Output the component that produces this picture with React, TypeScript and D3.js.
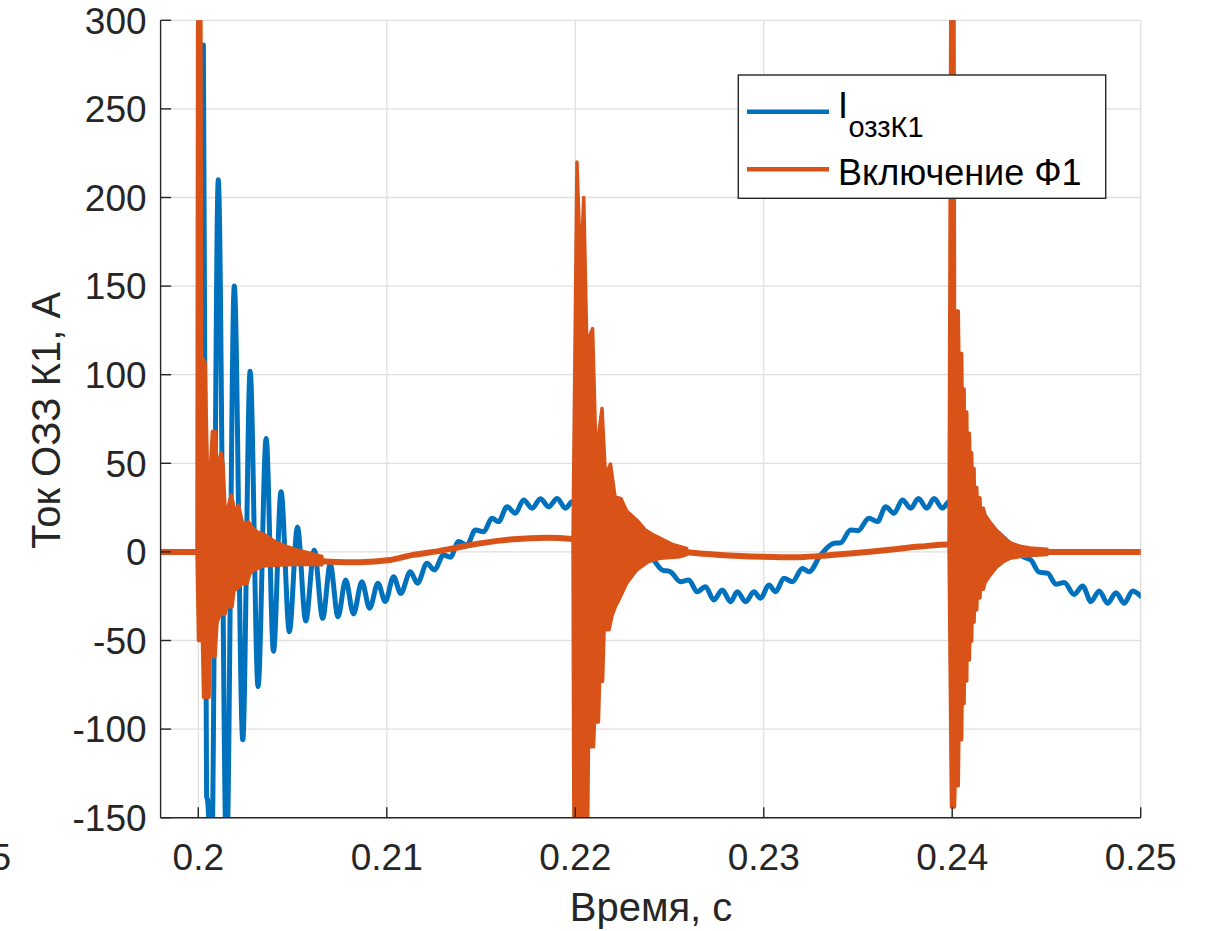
import React from 'react';
import * as d3 from 'd3';

const W = 1207;
const H = 931;
const PLOT = { left: 160.6, right: 1140.7, top: 20.3, bottom: 817.7 };

const xDomain: [number, number] = [0.198, 0.25];
const yDomain: [number, number] = [-150, 300];
const xTicks = [0.2, 0.21, 0.22, 0.23, 0.24, 0.25];
const xTickLabels = ['0.2', '0.21', '0.22', '0.23', '0.24', '0.25'];
const yTicks = [-150, -100, -50, 0, 50, 100, 150, 200, 250, 300];
const yTickLabels = ['-150', '-100', '-50', '0', '50', '100', '150', '200', '250', '300'];
const clippedLeftLabel = '0.195';
const xLabel = 'Время, с';
const yLabel = 'Ток ОЗЗ К1, А';
const legendMain = 'I';
const legendSub = 'оззК1';
const legendSecond = 'Включение Ф1';

const BLUE = '#0072BD';
const ORANGE = '#D95319';

// I озз K1 : [time s, current A]
const blueSeries: [number, number][] = [
  [0.198, 0], [0.2, 0], [0.20027, 286], [0.20044, -138], [0.20049, -140], [0.2007, -180],
  [0.20106, 210], [0.2015, -175], [0.20191, 150], [0.20236, -106], [0.20275, 102], [0.20317, -76],
  [0.2036, 64], [0.20399, -56], [0.20439, 34], [0.20483, -45], [0.20526, 14], [0.2057, -39],
  [0.20615, 1], [0.2066, -37.5], [0.207, -7], [0.20741, -36.6], [0.20782, -15.8], [0.20823, -35],
  [0.20868, -16.8], [0.20909, -31.8], [0.20953, -17.7], [0.20992, -28], [0.21036, -14], [0.21074, -23.4],
  [0.21125, -11.2], [0.21163, -17.7], [0.21213, -6.4], [0.21252, -10.2], [0.21301, -1.7], [0.21337, -3],
  [0.21381, 5.8], [0.21426, 3.9], [0.2147, 12.4], [0.21514, 11.4], [0.21558, 19], [0.21593, 17.1],
  [0.21638, 25.5], [0.21682, 21.8], [0.21726, 29.3], [0.21771, 24.6], [0.21815, 30], [0.21859, 25.5],
  [0.21904, 30.2], [0.21948, 24.6], [0.21983, 28.3], [0.22027, 26], [0.22107, 22], [0.22187, 16],
  [0.22266, 8], [0.22346, 0], [0.22408, -3.6], [0.22461, -10.2], [0.22505, -11.2], [0.22558, -16.8],
  [0.22602, -15.8], [0.22647, -22.5], [0.22691, -19.6], [0.22735, -27.1], [0.2278, -21.5], [0.22824, -28.1],
  [0.2286, -22.5], [0.22904, -28.1], [0.22948, -22.5], [0.22983, -26.2], [0.23027, -18.7], [0.23063, -22.5],
  [0.23107, -14.9], [0.23152, -16.8], [0.23205, -9.3], [0.2324, -11.2], [0.23302, -1.7], [0.23373, 4.9],
  [0.23408, 5.2], [0.23461, 12.4], [0.235, 12], [0.23558, 19], [0.23603, 17.1], [0.23647, 25.5],
  [0.23691, 21.8], [0.23736, 29.3], [0.2378, 24.6], [0.23821, 30.2], [0.23865, 24.6], [0.23904, 30.2],
  [0.23948, 24.6], [0.23983, 28.3], [0.24045, 26], [0.24125, 21], [0.24189, 16], [0.2424, 11],
  [0.24311, 4], [0.24373, -2.6], [0.24417, -4.5], [0.24461, -11.4], [0.24506, -12], [0.2455, -18.2],
  [0.24594, -17.3], [0.24647, -24], [0.24692, -19.2], [0.24736, -28], [0.2478, -22], [0.24824, -29],
  [0.24869, -23], [0.24913, -29], [0.24957, -22], [0.25, -25],
];

// Включение Ф1 : slow component between bursts
const orangeBase: [number, number][] = [
  [0.198, 0], [0.19998, 0], [0.20274, -1], [0.2054, -3.6], [0.20699, -5.5], [0.20858, -5.8],
  [0.21017, -4.6], [0.21139, -1.7], [0.21282, 0.6], [0.21389, 2.8], [0.21495, 4.8], [0.2167, 7.1],
  [0.2185, 8], [0.21988, 7.3], [0.22131, 5.5], [0.2229, 4], [0.22412, 2.9], [0.22593, -0.2],
  [0.22768, -1.7], [0.22996, -2.7], [0.23177, -3], [0.23299, -2.3], [0.23474, -0.8], [0.23654, 1.1],
  [0.23829, 3], [0.23983, 4.2], [0.24041, 3], [0.242, 1], [0.2436, 0.3], [0.24503, 0], [0.25, 0],
];

// Включение Ф1 : oscillation bursts, upper and lower extremes
const burst1Upper: [number, number][] = [
  [0.19993, 0], [0.19998, 420], [0.20012, 420], [0.20017, 110], [0.20036, 107], [0.20049, 43],
  [0.20062, 43], [0.20075, 68], [0.20091, 68], [0.20099, 45], [0.2012, 56], [0.20131, 50],
  [0.20142, 25], [0.20158, 25], [0.20174, 32], [0.20184, 28], [0.20195, 22], [0.20213, 26.5],
  [0.20227, 20], [0.20237, 15], [0.20266, 17], [0.20285, 14], [0.20311, 11.4], [0.20354, 9.6],
  [0.20407, 5.8], [0.20471, 3], [0.20524, 1.1], [0.20593, -0.8], [0.20656, -2.5],
];
const burst1Lower: [number, number][] = [
  [0.19993, 0], [0.20001, -50], [0.20022, -50], [0.20028, -82], [0.20057, -82], [0.20062, -59],
  [0.20089, -59], [0.20099, -40], [0.20115, -35], [0.20142, -35], [0.20152, -31], [0.20179, -31],
  [0.20189, -22], [0.20211, -20], [0.20232, -18], [0.20258, -18], [0.20274, -12], [0.20301, -10],
  [0.20338, -8], [0.20407, -7.5], [0.2054, -7], [0.20656, -7.3],
];
const burst2Upper: [number, number][] = [
  [0.21988, 7], [0.22009, 220], [0.22029, 157], [0.22045, 200], [0.22061, 118], [0.22092, 126],
  [0.2211, 55], [0.22142, 81], [0.2216, 43], [0.22187, 49.6], [0.22211, 31], [0.22243, 30],
  [0.22273, 23], [0.22326, 18], [0.2237, 12.5], [0.22414, 9.6], [0.22467, 6.8], [0.2252, 4],
  [0.22591, 2],
];
const burst2Lower: [number, number][] = [
  [0.21988, 7], [0.21993, -165], [0.22065, -165], [0.2207, -110], [0.22097, -110], [0.22102, -96],
  [0.22123, -96], [0.22129, -73], [0.22145, -73], [0.22153, -44], [0.22179, -44], [0.22195, -36],
  [0.22216, -30], [0.22227, -28], [0.22273, -17.7], [0.22326, -10.2], [0.22388, -5.5], [0.2245, -3.6],
  [0.22556, -2.7], [0.22591, -1.5],
];
const burst3Upper: [number, number][] = [
  [0.23983, 4.2], [0.23996, 420], [0.24008, 420], [0.24012, 136], [0.24032, 136], [0.24035, 112],
  [0.2405, 112], [0.24052, 92], [0.24063, 92], [0.24064, 79], [0.24077, 79], [0.24078, 67],
  [0.24091, 67], [0.24093, 56], [0.24103, 56], [0.24105, 47], [0.24116, 47], [0.24117, 36.4],
  [0.2413, 36.4], [0.24132, 30.5], [0.24147, 30.5], [0.24149, 24.7], [0.24165, 24.7], [0.24174, 20.8],
  [0.242, 16.9], [0.24236, 12], [0.24271, 8.1], [0.24307, 5.2], [0.2436, 3.2], [0.24413, 2.2],
  [0.24503, 1.5],
];
const burst3Lower: [number, number][] = [
  [0.23983, 4.2], [0.23996, -144], [0.24012, -144], [0.24015, -132], [0.24032, -132], [0.24035, -106],
  [0.2405, -106], [0.24052, -85.5], [0.24063, -85.5], [0.24064, -72.8], [0.24077, -72.8], [0.24078, -61],
  [0.24091, -61], [0.24093, -50.4], [0.24103, -50.4], [0.24105, -39.7], [0.24116, -39.7], [0.24117, -32.8],
  [0.2413, -32.8], [0.24132, -26], [0.24147, -26], [0.24149, -21.1], [0.24165, -21.1], [0.24174, -17.3],
  [0.242, -13.3], [0.24236, -8.5], [0.24271, -5.6], [0.24307, -3.6], [0.2436, -2.6], [0.24413, -2],
  [0.24503, -1.5],
];

const FONT = '"Liberation Sans", Arial, Helvetica, sans-serif';
const AXIS = '#262626';
const GRID = '#dfdfdf';

export default function App() {
  const x = d3.scaleLinear().domain(xDomain).range([PLOT.left, PLOT.right]);
  const y = d3.scaleLinear().domain(yDomain).range([PLOT.bottom, PLOT.top]);

  const smooth = d3
    .line<[number, number]>()
    .x((d) => x(d[0]))
    .y((d) => y(d[1]))
    .curve(d3.curveMonotoneX);
  const straight = d3
    .line<[number, number]>()
    .x((d) => x(d[0]))
    .y((d) => y(d[1]));
  const burstPath = (up: [number, number][], lo: [number, number][]) =>
    (straight([...up, ...lo.slice().reverse()]) || '') + 'Z';

  const bursts = [
    [burst1Upper, burst1Lower],
    [burst2Upper, burst2Lower],
    [burst3Upper, burst3Lower],
  ] as [[number, number][], [number, number][]][];

  return (
    <svg
      width={W}
      height={H}
      viewBox={`0 0 ${W} ${H}`}
      style={{ position: 'absolute', left: 0, top: 0, background: '#fff' }}
      fontFamily={FONT}
    >
      <defs>
        <clipPath id="plotclip">
          <rect x={PLOT.left} y={PLOT.top} width={PLOT.right - PLOT.left} height={PLOT.bottom - PLOT.top} />
        </clipPath>
      </defs>
      <rect x={0} y={0} width={W} height={H} fill="#fff" />

      {/* grid */}
      <g stroke={GRID} strokeWidth={1.3}>
        {xTicks.map((t) => (
          <line key={'gx' + t} x1={x(t)} x2={x(t)} y1={PLOT.top} y2={PLOT.bottom} />
        ))}
        {yTicks.map((t) => (
          <line key={'gy' + t} x1={PLOT.left} x2={PLOT.right} y1={y(t)} y2={y(t)} />
        ))}
      </g>

      {/* data */}
      <g clipPath="url(#plotclip)">
        <path d={smooth(blueSeries) || ''} fill="none" stroke={BLUE} strokeWidth={5} strokeLinejoin="round" strokeLinecap="round" />
        <path d={smooth(orangeBase) || ''} fill="none" stroke={ORANGE} strokeWidth={6} strokeLinejoin="round" strokeLinecap="round" />
        {bursts.map(([up, lo], i) => (
          <path key={'b' + i} d={burstPath(up, lo)} fill={ORANGE} stroke={ORANGE} strokeWidth={3.5} strokeLinejoin="round" />
        ))}
      </g>

      {/* axes */}
      <g stroke={AXIS} strokeWidth={1.4} fill="none">
        <line x1={PLOT.left} x2={PLOT.left} y1={PLOT.top} y2={PLOT.bottom} />
        <line x1={PLOT.left} x2={PLOT.right} y1={PLOT.bottom} y2={PLOT.bottom} />
        {yTicks.map((t) => (
          <line key={'ty' + t} x1={PLOT.left} x2={PLOT.left + 10.5} y1={y(t)} y2={y(t)} />
        ))}
        {xTicks.map((t) => (
          <line key={'tx' + t} x1={x(t)} x2={x(t)} y1={PLOT.bottom} y2={PLOT.bottom - 10.5} />
        ))}
      </g>

      <g fill={AXIS} fontSize={37}>
        {yTicks.map((t, i) => (
          <text key={'ly' + t} x={PLOT.left - 14} y={y(t) + 13.3} textAnchor="end">
            {yTickLabels[i]}
          </text>
        ))}
        {xTicks.map((t, i) => (
          <text key={'lx' + t} x={x(t)} y={PLOT.bottom + 52} textAnchor="middle">
            {xTickLabels[i]}
          </text>
        ))}
        <text x={11} y={PLOT.bottom + 52} textAnchor="end">
          {clippedLeftLabel}
        </text>
      </g>

      <text x={651} y={921} textAnchor="middle" fontSize={40} fill={AXIS}>
        {xLabel}
      </text>
      <text transform="translate(60,420.5) rotate(-90)" textAnchor="middle" fontSize={40} fill={AXIS}>
        {yLabel}
      </text>

      {/* legend */}
      <g>
        <rect x={738.3} y={75} width={367.4} height={123.3} fill="#fff" stroke={AXIS} strokeWidth={1.4} />
        <line x1={747} x2={829} y1={111.7} y2={111.7} stroke={BLUE} strokeWidth={4.5} />
        <line x1={747} x2={829} y1={169.3} y2={169.3} stroke={ORANGE} strokeWidth={4.5} />
        <text x={838} y={118.3} fontSize={36} fill="#000">
          {legendMain}
        </text>
        <text x={848.5} y={137} fontSize={29} fill="#000">
          {legendSub}
        </text>
        <text x={838} y={185} fontSize={36} fill="#000">
          {legendSecond}
        </text>
      </g>
    </svg>
  );
}
